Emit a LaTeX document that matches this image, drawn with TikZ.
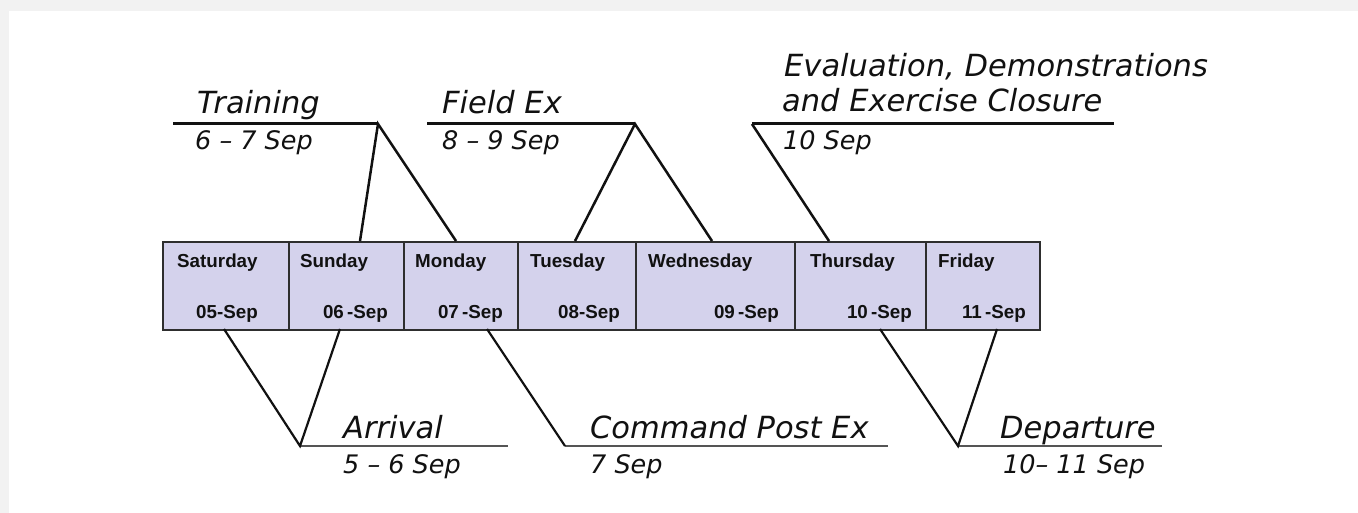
\documentclass[tikz,border=0pt]{standalone}
\usepackage{fontspec}
\newfontfamily\lblfont{DejaVu Sans}
\newfontfamily\cellfont{Liberation Sans}
\definecolor{framegray}{HTML}{F2F2F2}
\definecolor{cellfill}{HTML}{D4D2EC}
\definecolor{cellline}{HTML}{2E2E2E}
\definecolor{inkc}{HTML}{111111}
\definecolor{lowgray}{HTML}{555555}
\begin{document}
\begin{tikzpicture}[x=1pt,y=-1pt,
  title/.style={inner sep=0pt,anchor=base west,text=inkc,font=\lblfont\itshape\fontsize{30.5}{36}\selectfont},
  datelbl/.style={inner sep=0pt,anchor=base west,text=inkc,font=\lblfont\itshape\fontsize{25.5}{30}\selectfont},
  daycell/.style={draw=cellline,line width=2pt,fill=cellfill,anchor=north west,minimum height=88pt,inner sep=0pt},
  dayname/.style={inner sep=0pt,anchor=base west,text=inkc,font=\cellfont\bfseries\fontsize{18.8}{22}\selectfont},
  daydate/.style={inner sep=0pt,anchor=base east,text=inkc,font=\cellfont\bfseries\fontsize{18.8}{22}\selectfont},
  topline/.style={line width=3pt,inkc},
  topleg/.style={line width=2.5pt,inkc},
  lowleg/.style={line width=2.2pt,inkc},
  lowrule/.style={line width=2.2pt,lowgray}]
% background frame
\fill[framegray] (0,0) rectangle (1358,513);
\fill[white] (9,11) rectangle (1358,513);
\useasboundingbox (0,0) rectangle (1358,513);

% day cells
\node[daycell,minimum width=126pt] (sat) at (162,241) {};
\node[daycell,minimum width=115pt] (sun) at (288,241) {};
\node[daycell,minimum width=114pt] (mon) at (403,241) {};
\node[daycell,minimum width=118pt] (tue) at (517,241) {};
\node[daycell,minimum width=159pt] (wed) at (635,241) {};
\node[daycell,minimum width=131pt] (thu) at (794,241) {};
\node[daycell,minimum width=114pt] (fri) at (925,241) {};

\node[dayname] (satN) at (177,268) {Saturday};
\node[dayname] (sunN) at (300,268) {Sunday};
\node[dayname] (monN) at (415,268) {Monday};
\node[dayname] (tueN) at (530,268) {Tuesday};
\node[dayname] (wedN) at (648,268) {Wednesday};
\node[dayname] (thuN) at (810,268) {Thursday};
\node[dayname] (friN) at (938,268) {Friday};

\node[daydate] (satD) at (258,318) {05-Sep};
\node[daydate] (sunD) at (388,318) {06\,-Sep};
\node[daydate] (monD) at (503,318) {07\,-Sep};
\node[daydate] (tueD) at (620,318) {08-Sep};
\node[daydate] (wedD) at (779,318) {09\,-Sep};
\node[daydate] (thuD) at (912,318) {10\,-Sep};
\node[daydate] (friD) at (1026,318) {11\,-Sep};

% connector points
\coordinate (trS) at (173,124);
\coordinate (trV) at (378,124);
\coordinate (sunTop) at (360,241);
\coordinate (monTop) at (456,241);
\coordinate (feS) at (427,124);
\coordinate (feV) at (635,124);
\coordinate (tueTop) at (575,241);
\coordinate (wedTop) at (712,241);
\coordinate (evV) at (752,124);
\coordinate (evE) at (1114,124);
\coordinate (thuTop) at (829,241);
\coordinate (arV) at (300,446);
\coordinate (arE) at (508,446);
\coordinate (satBot) at (224,329);
\coordinate (sunBot) at (340,329);
\coordinate (cpV) at (565,446);
\coordinate (cpE) at (888,446);
\coordinate (monBot) at (487,329);
\coordinate (deV) at (958,446);
\coordinate (deE) at (1162,446);
\coordinate (thuBot) at (880,329);
\coordinate (friBot) at (997,329);

% top labels
\draw[topline] (trS) -- (trV);
\draw[topleg] (sunTop) -- (trV) -- (monTop);
\node[title] (training) at (197,114) {Training};
\node[datelbl] (trainingD) at (195,150) {6 – 7 Sep};

\draw[topline] (feS) -- (feV);
\draw[topleg] (tueTop) -- (feV) -- (wedTop);
\node[title] (fieldex) at (442,114) {Field Ex};
\node[datelbl] (fieldexD) at (442,150) {8 – 9 Sep};

\draw[topline] (evV) -- (evE);
\draw[topleg] (evV) -- (thuTop);
\node[title] (evalA) at (784,77) {Evaluation, Demonstrations};
\node[title] (evalB) at (782,112) {and Exercise Closure};
\node[datelbl] (evalD) at (783,150) {10 Sep};

% bottom labels
\draw[lowrule] (arV) -- (arE);
\draw[lowleg] (satBot) -- (arV) -- (sunBot);
\node[title] (arrival) at (343,438) {Arrival};
\node[datelbl] (arrivalD) at (343,473) {5 – 6 Sep};

\draw[lowrule] (cpV) -- (cpE);
\draw[lowleg] (monBot) -- (cpV);
\node[title] (cpe) at (590,438) {Command Post Ex};
\node[datelbl] (cpeD) at (590,473) {7 Sep};

\draw[lowrule] (deV) -- (deE);
\draw[lowleg] (thuBot) -- (deV) -- (friBot);
\node[title] (departure) at (1000,438) {Departure};
\node[datelbl] (departureD) at (1003,473) {10– 11 Sep};
\end{tikzpicture}
\end{document}
